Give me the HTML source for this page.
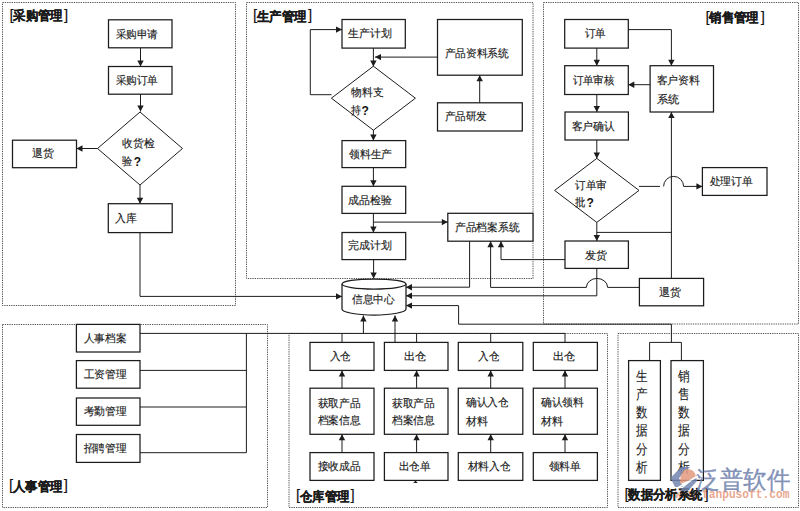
<!DOCTYPE html>
<html><head><meta charset="utf-8"><style>
html,body{margin:0;padding:0;background:#fff;width:800px;height:511px;overflow:hidden}
svg{display:block}
text{font-family:"Liberation Sans",sans-serif}
</style></head><body>
<svg width="800" height="511" viewBox="0 0 800 511">
<rect width="800" height="511" fill="#fff"/>
<rect x="2.5" y="2.5" width="233.0" height="303.0" fill="none" stroke="#555" stroke-width="1" stroke-dasharray="1.3 1"/>
<rect x="246.5" y="2.5" width="286.5" height="276.0" fill="none" stroke="#555" stroke-width="1" stroke-dasharray="1.3 1"/>
<rect x="543.5" y="2.5" width="255.0" height="321.5" fill="none" stroke="#555" stroke-width="1" stroke-dasharray="1.3 1"/>
<rect x="2.5" y="324.5" width="265.0" height="183.0" fill="none" stroke="#555" stroke-width="1" stroke-dasharray="1.3 1"/>
<rect x="289" y="333.5" width="318.5" height="174.0" fill="none" stroke="#555" stroke-width="1" stroke-dasharray="1.3 1"/>
<rect x="618" y="333.5" width="180.5" height="174.0" fill="none" stroke="#555" stroke-width="1" stroke-dasharray="1.3 1"/>
<rect x="108.5" y="19.8" width="63.5" height="27.999999999999996" fill="#fff" stroke="#1c1c1c" stroke-width="1.25"/>
<rect x="108.5" y="66.5" width="63.5" height="27.700000000000003" fill="#fff" stroke="#1c1c1c" stroke-width="1.25"/>
<polyline points="140.5,48 140.5,66.5" fill="none" stroke="#1c1c1c" stroke-width="1.0"/>
<polygon points="140.5,66.5 137.3,60.5 143.7,60.5" fill="#1c1c1c"/>
<polygon points="140,112.0 182.5,148.5 140,185.0 97.5,148.5" fill="#fff" stroke="#1c1c1c" stroke-width="1.0"/>
<polyline points="140.5,94.2 140.5,111.5" fill="none" stroke="#1c1c1c" stroke-width="1.0"/>
<polygon points="140.5,111.5 137.3,105.5 143.7,105.5" fill="#1c1c1c"/>
<rect x="12.5" y="140.2" width="64.0" height="27.5" fill="#fff" stroke="#1c1c1c" stroke-width="1.25"/>
<polyline points="97.5,148.5 76.5,148.5" fill="none" stroke="#1c1c1c" stroke-width="1.0"/>
<polygon points="76.5,148.5 82.5,145.3 82.5,151.7" fill="#1c1c1c"/>
<rect x="108.3" y="203.7" width="63.89999999999999" height="28.900000000000006" fill="#fff" stroke="#1c1c1c" stroke-width="1.25"/>
<polyline points="140,185 140,203.7" fill="none" stroke="#1c1c1c" stroke-width="1.0"/>
<polygon points="140,203.7 136.8,197.7 143.2,197.7" fill="#1c1c1c"/>
<text x="115.50" y="38.13" font-size="11" font-weight="normal" fill="#1a1a1a" stroke="#1a1a1a" stroke-width="0.15" textLength="42.50" lengthAdjust="spacingAndGlyphs">采购申请</text>
<text x="115.50" y="83.93" font-size="11" font-weight="normal" fill="#1a1a1a" stroke="#1a1a1a" stroke-width="0.15" textLength="42.50" lengthAdjust="spacingAndGlyphs">采购订单</text>
<text x="122.30" y="146.63" font-size="11" font-weight="normal" fill="#1a1a1a" stroke="#1a1a1a" stroke-width="0.15" textLength="32.20" lengthAdjust="spacingAndGlyphs">收货检</text>
<text x="122.30" y="164.63" font-size="11" font-weight="normal" fill="#1a1a1a" stroke="#1a1a1a" stroke-width="0.15" textLength="10.20" lengthAdjust="spacingAndGlyphs">验</text>
<text x="133.80" y="165.60" font-size="12" font-weight="bold" fill="#111">?</text>
<text x="32.10" y="157.03" font-size="11" font-weight="normal" fill="#1a1a1a" stroke="#1a1a1a" stroke-width="0.15" textLength="21.80" lengthAdjust="spacingAndGlyphs">退货</text>
<text x="115.30" y="221.93" font-size="11" font-weight="normal" fill="#1a1a1a" stroke="#1a1a1a" stroke-width="0.15" textLength="21.70" lengthAdjust="spacingAndGlyphs">入库</text>
<rect x="342" y="19.5" width="63.30000000000001" height="28.6" fill="#fff" stroke="#1c1c1c" stroke-width="1.25"/>
<polygon points="373.4,66.2 415.4,98.2 373.4,130.2 331.4,98.2" fill="#fff" stroke="#1c1c1c" stroke-width="1.0"/>
<polyline points="373.4,48.1 373.4,66.4" fill="none" stroke="#1c1c1c" stroke-width="1.0"/>
<polygon points="373.4,66.4 370.2,60.400000000000006 376.59999999999997,60.400000000000006" fill="#1c1c1c"/>
<polyline points="331.5,94.7 310.3,94.7 310.3,29.6 342,29.6" fill="none" stroke="#1c1c1c" stroke-width="1.0"/>
<polygon points="342,29.6 336,26.400000000000002 336,32.800000000000004" fill="#1c1c1c"/>
<rect x="437.5" y="19.5" width="84.79999999999995" height="55.7" fill="#fff" stroke="#1c1c1c" stroke-width="1.25"/>
<polyline points="437.5,57.1 375,57.1" fill="none" stroke="#1c1c1c" stroke-width="1.0"/>
<polygon points="375,57.1 381,53.9 381,60.300000000000004" fill="#1c1c1c"/>
<rect x="437.5" y="102.8" width="84.79999999999995" height="28.200000000000003" fill="#fff" stroke="#1c1c1c" stroke-width="1.25"/>
<polyline points="479.7,102.8 479.7,75.2" fill="none" stroke="#1c1c1c" stroke-width="1.0"/>
<polygon points="479.7,75.2 476.5,81.2 482.9,81.2" fill="#1c1c1c"/>
<rect x="342" y="140.6" width="63.69999999999999" height="27.0" fill="#fff" stroke="#1c1c1c" stroke-width="1.25"/>
<polyline points="373.4,130 373.4,140.6" fill="none" stroke="#1c1c1c" stroke-width="1.0"/>
<polygon points="373.4,140.6 370.2,134.6 376.59999999999997,134.6" fill="#1c1c1c"/>
<rect x="342" y="186.3" width="63.69999999999999" height="27.099999999999994" fill="#fff" stroke="#1c1c1c" stroke-width="1.25"/>
<polyline points="373.4,167.6 373.4,186.3" fill="none" stroke="#1c1c1c" stroke-width="1.0"/>
<polygon points="373.4,186.3 370.2,180.3 376.59999999999997,180.3" fill="#1c1c1c"/>
<rect x="342" y="232.5" width="63.69999999999999" height="27.100000000000023" fill="#fff" stroke="#1c1c1c" stroke-width="1.25"/>
<polyline points="373.4,213.4 373.4,232.5" fill="none" stroke="#1c1c1c" stroke-width="1.0"/>
<polygon points="373.4,232.5 370.2,226.5 376.59999999999997,226.5" fill="#1c1c1c"/>
<rect x="447.8" y="213.3" width="85.19999999999999" height="27.899999999999977" fill="#fff" stroke="#1c1c1c" stroke-width="1.25"/>
<polyline points="373.4,222.1 447.8,222.1" fill="none" stroke="#1c1c1c" stroke-width="1.0"/>
<polygon points="447.8,222.1 441.8,218.9 441.8,225.29999999999998" fill="#1c1c1c"/>
<text x="348.40" y="37.43" font-size="11" font-weight="normal" fill="#1a1a1a" stroke="#1a1a1a" stroke-width="0.15" textLength="43.60" lengthAdjust="spacingAndGlyphs">生产计划</text>
<text x="351.40" y="95.83" font-size="11" font-weight="normal" fill="#1a1a1a" stroke="#1a1a1a" stroke-width="0.15" textLength="32.10" lengthAdjust="spacingAndGlyphs">物料支</text>
<text x="351.40" y="113.93" font-size="11" font-weight="normal" fill="#1a1a1a" stroke="#1a1a1a" stroke-width="0.15" textLength="10.10" lengthAdjust="spacingAndGlyphs">持</text>
<text x="361.50" y="114.90" font-size="12" font-weight="bold" fill="#111">?</text>
<text x="444.50" y="56.63" font-size="11" font-weight="normal" fill="#1a1a1a" stroke="#1a1a1a" stroke-width="0.15" textLength="64.30" lengthAdjust="spacingAndGlyphs">产品资料系统</text>
<text x="444.50" y="120.13" font-size="11" font-weight="normal" fill="#1a1a1a" stroke="#1a1a1a" stroke-width="0.15" textLength="42.50" lengthAdjust="spacingAndGlyphs">产品研发</text>
<text x="349.10" y="157.53" font-size="11" font-weight="normal" fill="#1a1a1a" stroke="#1a1a1a" stroke-width="0.15" textLength="43.10" lengthAdjust="spacingAndGlyphs">领料生产</text>
<text x="348.30" y="203.63" font-size="11" font-weight="normal" fill="#1a1a1a" stroke="#1a1a1a" stroke-width="0.15" textLength="43.60" lengthAdjust="spacingAndGlyphs">成品检验</text>
<text x="348.30" y="249.33" font-size="11" font-weight="normal" fill="#1a1a1a" stroke="#1a1a1a" stroke-width="0.15" textLength="43.60" lengthAdjust="spacingAndGlyphs">完成计划</text>
<text x="454.80" y="231.23" font-size="11" font-weight="normal" fill="#1a1a1a" stroke="#1a1a1a" stroke-width="0.15" textLength="64.90" lengthAdjust="spacingAndGlyphs">产品档案系统</text>
<rect x="564.7" y="19.5" width="63.59999999999991" height="28.6" fill="#fff" stroke="#1c1c1c" stroke-width="1.25"/>
<rect x="564.7" y="65.7" width="63.59999999999991" height="28.799999999999997" fill="#fff" stroke="#1c1c1c" stroke-width="1.25"/>
<rect x="565" y="112" width="63.39999999999998" height="28" fill="#fff" stroke="#1c1c1c" stroke-width="1.25"/>
<polyline points="596.8,48.1 596.8,65.7" fill="none" stroke="#1c1c1c" stroke-width="1.0"/>
<polygon points="596.8,65.7 593.5999999999999,59.7 600.0,59.7" fill="#1c1c1c"/>
<polyline points="596.8,94.5 596.8,112" fill="none" stroke="#1c1c1c" stroke-width="1.0"/>
<polygon points="596.8,112 593.5999999999999,106 600.0,106" fill="#1c1c1c"/>
<rect x="650.1" y="65.7" width="63.39999999999998" height="46.3" fill="#fff" stroke="#1c1c1c" stroke-width="1.25"/>
<polyline points="628.3,29.6 671.4,29.6 671.4,65.7" fill="none" stroke="#1c1c1c" stroke-width="1.0"/>
<polygon points="671.4,65.7 668.1999999999999,59.7 674.6,59.7" fill="#1c1c1c"/>
<polyline points="650.1,84.7 628.3,84.7" fill="none" stroke="#1c1c1c" stroke-width="1.0"/>
<polygon points="628.3,84.7 634.3,81.5 634.3,87.9" fill="#1c1c1c"/>
<polygon points="596.8,158.4 639.0,190.4 596.8,222.4 554.5999999999999,190.4" fill="#fff" stroke="#1c1c1c" stroke-width="1.0"/>
<polyline points="596.8,140 596.8,158.4" fill="none" stroke="#1c1c1c" stroke-width="1.0"/>
<polygon points="596.8,158.4 593.5999999999999,152.4 600.0,152.4" fill="#1c1c1c"/>
<rect x="565" y="241" width="63.39999999999998" height="27.399999999999977" fill="#fff" stroke="#1c1c1c" stroke-width="1.25"/>
<polyline points="596.8,222.4 596.8,241" fill="none" stroke="#1c1c1c" stroke-width="1.0"/>
<polygon points="596.8,241 593.5999999999999,235 600.0,235" fill="#1c1c1c"/>
<polyline points="671.4,232.4 596.8,232.4" fill="none" stroke="#1c1c1c" stroke-width="1.0"/>
<rect x="702.4" y="167.6" width="64.60000000000002" height="27.80000000000001" fill="#fff" stroke="#1c1c1c" stroke-width="1.25"/>
<polyline points="639,186.4 660,186.4" fill="none" stroke="#1c1c1c" stroke-width="1.0"/>
<path d="M663.6,186.4 A10,10 0 0 1 683.6,186.4" fill="none" stroke="#1c1c1c" stroke-width="1.0"/>
<polyline points="683.6,186.4 702.4,186.4" fill="none" stroke="#1c1c1c" stroke-width="1.0"/>
<polygon points="702.4,186.4 696.4,183.20000000000002 696.4,189.6" fill="#1c1c1c"/>
<rect x="639.4" y="278.4" width="64.20000000000005" height="27.400000000000034" fill="#fff" stroke="#1c1c1c" stroke-width="1.25"/>
<polyline points="671.4,112 671.4,278.4" fill="none" stroke="#1c1c1c" stroke-width="1.0"/>
<polygon points="671.4,112 668.1999999999999,118 674.6,118" fill="#1c1c1c"/>
<polyline points="671.4,324.2 671.4,342.4" fill="none" stroke="#1c1c1c" stroke-width="1.0"/>
<text x="584.50" y="37.43" font-size="11" font-weight="normal" fill="#1a1a1a" stroke="#1a1a1a" stroke-width="0.15" textLength="21.00" lengthAdjust="spacingAndGlyphs">订单</text>
<text x="572.50" y="83.83" font-size="11" font-weight="normal" fill="#1a1a1a" stroke="#1a1a1a" stroke-width="0.15" textLength="41.80" lengthAdjust="spacingAndGlyphs">订单审核</text>
<text x="571.50" y="129.63" font-size="11" font-weight="normal" fill="#1a1a1a" stroke="#1a1a1a" stroke-width="0.15" textLength="43.40" lengthAdjust="spacingAndGlyphs">客户确认</text>
<text x="656.50" y="84.33" font-size="11" font-weight="normal" fill="#1a1a1a" stroke="#1a1a1a" stroke-width="0.15" textLength="43.50" lengthAdjust="spacingAndGlyphs">客户资料</text>
<text x="656.50" y="102.63" font-size="11" font-weight="normal" fill="#1a1a1a" stroke="#1a1a1a" stroke-width="0.15" textLength="22.50" lengthAdjust="spacingAndGlyphs">系统</text>
<text x="575.10" y="188.63" font-size="11" font-weight="normal" fill="#1a1a1a" stroke="#1a1a1a" stroke-width="0.15" textLength="31.40" lengthAdjust="spacingAndGlyphs">订单审</text>
<text x="575.10" y="205.63" font-size="11" font-weight="normal" fill="#1a1a1a" stroke="#1a1a1a" stroke-width="0.15" textLength="10.40" lengthAdjust="spacingAndGlyphs">批</text>
<text x="586.50" y="206.60" font-size="12" font-weight="bold" fill="#111">?</text>
<text x="709.50" y="185.23" font-size="11" font-weight="normal" fill="#1a1a1a" stroke="#1a1a1a" stroke-width="0.15" textLength="43.00" lengthAdjust="spacingAndGlyphs">处理订单</text>
<text x="584.50" y="258.63" font-size="11" font-weight="normal" fill="#1a1a1a" stroke="#1a1a1a" stroke-width="0.15" textLength="22.00" lengthAdjust="spacingAndGlyphs">发货</text>
<text x="658.50" y="295.63" font-size="11" font-weight="normal" fill="#1a1a1a" stroke="#1a1a1a" stroke-width="0.15" textLength="22.00" lengthAdjust="spacingAndGlyphs">退货</text>
<path d="M342,284 L342,309 A32.0,6 0 0 0 406,309 L406,284" fill="#fff" stroke="#1c1c1c" stroke-width="1.25"/>
<ellipse cx="374.0" cy="284" rx="32.0" ry="5" fill="#fff" stroke="#1c1c1c" stroke-width="1.25"/>
<polyline points="373.6,259.6 373.6,278.5" fill="none" stroke="#1c1c1c" stroke-width="1.0"/>
<polygon points="373.6,278.5 370.40000000000003,272.5 376.8,272.5" fill="#1c1c1c"/>
<text x="352.00" y="302.93" font-size="11" font-weight="normal" fill="#1a1a1a" stroke="#1a1a1a" stroke-width="0.15" textLength="42.60" lengthAdjust="spacingAndGlyphs">信息中心</text>
<polyline points="140,232.6 140,296.4 342,296.4" fill="none" stroke="#1c1c1c" stroke-width="1.0"/>
<polygon points="342,296.4 336,293.2 336,299.59999999999997" fill="#1c1c1c"/>
<polyline points="469.6,241.2 469.6,287.2 406,287.2" fill="none" stroke="#1c1c1c" stroke-width="1.0"/>
<polygon points="406,287.2 412,284.0 412,290.4" fill="#1c1c1c"/>
<polyline points="596.8,268.4 596.8,295.8 406,295.8" fill="none" stroke="#1c1c1c" stroke-width="1.0"/>
<polygon points="406,295.8 412,292.6 412,299.0" fill="#1c1c1c"/>
<polyline points="639.4,287.4 607.6,287.4" fill="none" stroke="#1c1c1c" stroke-width="1.0"/>
<path d="M607.6,287.4 A10.6,9 0 0 0 586.4,287.4" fill="none" stroke="#1c1c1c" stroke-width="1.0"/>
<polyline points="586.4,287.4 490.6,287.4 490.6,241.2" fill="none" stroke="#1c1c1c" stroke-width="1.0"/>
<polygon points="490.6,241.2 487.40000000000003,247.2 493.8,247.2" fill="#1c1c1c"/>
<polyline points="565,259.6 501,259.6 501,241.2" fill="none" stroke="#1c1c1c" stroke-width="1.0"/>
<polygon points="501,241.2 497.8,247.2 504.2,247.2" fill="#1c1c1c"/>
<polyline points="671.4,324.2 458.6,324.2 458.6,305.6 406,305.6" fill="none" stroke="#1c1c1c" stroke-width="1.0"/>
<polygon points="406,305.6 412,302.40000000000003 412,308.8" fill="#1c1c1c"/>
<rect x="76.4" y="324.4" width="63.599999999999994" height="27.600000000000023" fill="#fff" stroke="#1c1c1c" stroke-width="1.25"/>
<rect x="76.4" y="360.6" width="63.599999999999994" height="27.599999999999966" fill="#fff" stroke="#1c1c1c" stroke-width="1.25"/>
<rect x="76.4" y="398" width="63.599999999999994" height="27.30000000000001" fill="#fff" stroke="#1c1c1c" stroke-width="1.25"/>
<rect x="76.4" y="434.5" width="63.599999999999994" height="27.899999999999977" fill="#fff" stroke="#1c1c1c" stroke-width="1.25"/>
<polyline points="140,333.4 565,333.4" fill="none" stroke="#1c1c1c" stroke-width="1.0"/>
<polyline points="140,370.4 246.4,370.4" fill="none" stroke="#1c1c1c" stroke-width="1.0"/>
<polyline points="140,407 246.4,407" fill="none" stroke="#1c1c1c" stroke-width="1.0"/>
<polyline points="140,452.7 246.4,452.7 246.4,333.4" fill="none" stroke="#1c1c1c" stroke-width="1.0"/>
<text x="83.50" y="341.63" font-size="11" font-weight="normal" fill="#1a1a1a" stroke="#1a1a1a" stroke-width="0.15" textLength="43.00" lengthAdjust="spacingAndGlyphs">人事档案</text>
<text x="83.50" y="378.13" font-size="11" font-weight="normal" fill="#1a1a1a" stroke="#1a1a1a" stroke-width="0.15" textLength="43.00" lengthAdjust="spacingAndGlyphs">工资管理</text>
<text x="83.50" y="415.13" font-size="11" font-weight="normal" fill="#1a1a1a" stroke="#1a1a1a" stroke-width="0.15" textLength="43.00" lengthAdjust="spacingAndGlyphs">考勤管理</text>
<text x="83.50" y="452.13" font-size="11" font-weight="normal" fill="#1a1a1a" stroke="#1a1a1a" stroke-width="0.15" textLength="43.00" lengthAdjust="spacingAndGlyphs">招聘管理</text>
<polyline points="342,333.4 342,342.4" fill="none" stroke="#1c1c1c" stroke-width="1.0"/>
<rect x="310" y="342.4" width="64" height="28.0" fill="#fff" stroke="#1c1c1c" stroke-width="1.25"/>
<rect x="310" y="388.2" width="64" height="46.10000000000002" fill="#fff" stroke="#1c1c1c" stroke-width="1.25"/>
<rect x="310" y="452.6" width="64" height="27.799999999999955" fill="#fff" stroke="#1c1c1c" stroke-width="1.25"/>
<polyline points="342,388.2 342,370.4" fill="none" stroke="#1c1c1c" stroke-width="1.0"/>
<polygon points="342,370.4 338.8,376.4 345.2,376.4" fill="#1c1c1c"/>
<polyline points="342,452.6 342,434.3" fill="none" stroke="#1c1c1c" stroke-width="1.0"/>
<polygon points="342,434.3 338.8,440.3 345.2,440.3" fill="#1c1c1c"/>
<polyline points="416.6,333.4 416.6,342.4" fill="none" stroke="#1c1c1c" stroke-width="1.0"/>
<rect x="384.4" y="342.4" width="63.60000000000002" height="28.0" fill="#fff" stroke="#1c1c1c" stroke-width="1.25"/>
<rect x="384.4" y="388.2" width="63.60000000000002" height="46.10000000000002" fill="#fff" stroke="#1c1c1c" stroke-width="1.25"/>
<rect x="384.4" y="452.6" width="63.60000000000002" height="27.799999999999955" fill="#fff" stroke="#1c1c1c" stroke-width="1.25"/>
<polyline points="416.6,388.2 416.6,370.4" fill="none" stroke="#1c1c1c" stroke-width="1.0"/>
<polygon points="416.6,370.4 413.40000000000003,376.4 419.8,376.4" fill="#1c1c1c"/>
<polyline points="416.6,452.6 416.6,434.3" fill="none" stroke="#1c1c1c" stroke-width="1.0"/>
<polygon points="416.6,434.3 413.40000000000003,440.3 419.8,440.3" fill="#1c1c1c"/>
<polyline points="490.7,333.4 490.7,342.4" fill="none" stroke="#1c1c1c" stroke-width="1.0"/>
<rect x="458.3" y="342.4" width="64.49999999999994" height="28.0" fill="#fff" stroke="#1c1c1c" stroke-width="1.25"/>
<rect x="458.3" y="388.2" width="64.49999999999994" height="46.10000000000002" fill="#fff" stroke="#1c1c1c" stroke-width="1.25"/>
<rect x="458.3" y="452.6" width="64.49999999999994" height="27.799999999999955" fill="#fff" stroke="#1c1c1c" stroke-width="1.25"/>
<polyline points="490.7,388.2 490.7,370.4" fill="none" stroke="#1c1c1c" stroke-width="1.0"/>
<polygon points="490.7,370.4 487.5,376.4 493.9,376.4" fill="#1c1c1c"/>
<polyline points="490.7,452.6 490.7,434.3" fill="none" stroke="#1c1c1c" stroke-width="1.0"/>
<polygon points="490.7,434.3 487.5,440.3 493.9,440.3" fill="#1c1c1c"/>
<polyline points="565,333.4 565,342.4" fill="none" stroke="#1c1c1c" stroke-width="1.0"/>
<rect x="533.3" y="342.4" width="64.10000000000002" height="28.0" fill="#fff" stroke="#1c1c1c" stroke-width="1.25"/>
<rect x="533.3" y="388.2" width="64.10000000000002" height="46.10000000000002" fill="#fff" stroke="#1c1c1c" stroke-width="1.25"/>
<rect x="533.3" y="452.6" width="64.10000000000002" height="27.799999999999955" fill="#fff" stroke="#1c1c1c" stroke-width="1.25"/>
<polyline points="565,388.2 565,370.4" fill="none" stroke="#1c1c1c" stroke-width="1.0"/>
<polygon points="565,370.4 561.8,376.4 568.2,376.4" fill="#1c1c1c"/>
<polyline points="565,452.6 565,434.3" fill="none" stroke="#1c1c1c" stroke-width="1.0"/>
<polygon points="565,434.3 561.8,440.3 568.2,440.3" fill="#1c1c1c"/>
<polygon points="413.3,483 417.7,483 415.5,480.4" fill="#1c1c1c"/>
<polyline points="363.4,333.4 363.4,315.5" fill="none" stroke="#1c1c1c" stroke-width="1.0"/>
<polygon points="363.4,315.5 360.2,321.5 366.59999999999997,321.5" fill="#1c1c1c"/>
<polyline points="395,342.4 395,315.5" fill="none" stroke="#1c1c1c" stroke-width="1.0"/>
<polygon points="395,315.5 391.8,321.5 398.2,321.5" fill="#1c1c1c"/>
<text x="329.50" y="360.23" font-size="11" font-weight="normal" fill="#1a1a1a" stroke="#1a1a1a" stroke-width="0.15" textLength="21.40" lengthAdjust="spacingAndGlyphs">入仓</text>
<text x="403.90" y="360.23" font-size="11" font-weight="normal" fill="#1a1a1a" stroke="#1a1a1a" stroke-width="0.15" textLength="22.60" lengthAdjust="spacingAndGlyphs">出仓</text>
<text x="478.10" y="360.23" font-size="11" font-weight="normal" fill="#1a1a1a" stroke="#1a1a1a" stroke-width="0.15" textLength="21.40" lengthAdjust="spacingAndGlyphs">入仓</text>
<text x="552.50" y="360.23" font-size="11" font-weight="normal" fill="#1a1a1a" stroke="#1a1a1a" stroke-width="0.15" textLength="22.60" lengthAdjust="spacingAndGlyphs">出仓</text>
<text x="317.50" y="406.63" font-size="11" font-weight="normal" fill="#1a1a1a" stroke="#1a1a1a" stroke-width="0.15" textLength="43.00" lengthAdjust="spacingAndGlyphs">获取产品</text>
<text x="317.50" y="424.13" font-size="11" font-weight="normal" fill="#1a1a1a" stroke="#1a1a1a" stroke-width="0.15" textLength="43.00" lengthAdjust="spacingAndGlyphs">档案信息</text>
<text x="391.90" y="406.63" font-size="11" font-weight="normal" fill="#1a1a1a" stroke="#1a1a1a" stroke-width="0.15" textLength="43.00" lengthAdjust="spacingAndGlyphs">获取产品</text>
<text x="391.90" y="424.13" font-size="11" font-weight="normal" fill="#1a1a1a" stroke="#1a1a1a" stroke-width="0.15" textLength="43.00" lengthAdjust="spacingAndGlyphs">档案信息</text>
<text x="465.90" y="405.83" font-size="11" font-weight="normal" fill="#1a1a1a" stroke="#1a1a1a" stroke-width="0.15" textLength="43.00" lengthAdjust="spacingAndGlyphs">确认入仓</text>
<text x="465.90" y="424.63" font-size="11" font-weight="normal" fill="#1a1a1a" stroke="#1a1a1a" stroke-width="0.15" textLength="22.00" lengthAdjust="spacingAndGlyphs">材料</text>
<text x="540.90" y="405.83" font-size="11" font-weight="normal" fill="#1a1a1a" stroke="#1a1a1a" stroke-width="0.15" textLength="43.00" lengthAdjust="spacingAndGlyphs">确认领料</text>
<text x="540.90" y="424.63" font-size="11" font-weight="normal" fill="#1a1a1a" stroke="#1a1a1a" stroke-width="0.15" textLength="22.00" lengthAdjust="spacingAndGlyphs">材料</text>
<text x="317.50" y="470.23" font-size="11" font-weight="normal" fill="#1a1a1a" stroke="#1a1a1a" stroke-width="0.15" textLength="43.00" lengthAdjust="spacingAndGlyphs">接收成品</text>
<text x="398.50" y="470.23" font-size="11" font-weight="normal" fill="#1a1a1a" stroke="#1a1a1a" stroke-width="0.15" textLength="32.00" lengthAdjust="spacingAndGlyphs">出仓单</text>
<text x="467.50" y="470.23" font-size="11" font-weight="normal" fill="#1a1a1a" stroke="#1a1a1a" stroke-width="0.15" textLength="43.00" lengthAdjust="spacingAndGlyphs">材料入仓</text>
<text x="548.50" y="470.23" font-size="11" font-weight="normal" fill="#1a1a1a" stroke="#1a1a1a" stroke-width="0.15" textLength="32.00" lengthAdjust="spacingAndGlyphs">领料单</text>
<polyline points="649.6,360.6 649.6,342.4 681.4,342.4 681.4,360.6" fill="none" stroke="#1c1c1c" stroke-width="1.0"/>
<rect x="628.6" y="360.6" width="31.799999999999955" height="119.79999999999995" fill="#fff" stroke="#1c1c1c" stroke-width="1.25"/>
<rect x="671" y="360.6" width="32.39999999999998" height="119.79999999999995" fill="#fff" stroke="#1c1c1c" stroke-width="1.25"/>
<text x="636" y="380.60" font-size="14" fill="#1a1a1a" stroke="#1a1a1a" stroke-width="0.1" textLength="11.6" lengthAdjust="spacingAndGlyphs">生</text>
<text x="678.3" y="380.60" font-size="14" fill="#1a1a1a" stroke="#1a1a1a" stroke-width="0.1" textLength="11.8" lengthAdjust="spacingAndGlyphs">销</text>
<text x="636" y="398.85" font-size="14" fill="#1a1a1a" stroke="#1a1a1a" stroke-width="0.1" textLength="11.6" lengthAdjust="spacingAndGlyphs">产</text>
<text x="678.3" y="398.85" font-size="14" fill="#1a1a1a" stroke="#1a1a1a" stroke-width="0.1" textLength="11.8" lengthAdjust="spacingAndGlyphs">售</text>
<text x="636" y="417.10" font-size="14" fill="#1a1a1a" stroke="#1a1a1a" stroke-width="0.1" textLength="11.6" lengthAdjust="spacingAndGlyphs">数</text>
<text x="678.3" y="417.10" font-size="14" fill="#1a1a1a" stroke="#1a1a1a" stroke-width="0.1" textLength="11.8" lengthAdjust="spacingAndGlyphs">数</text>
<text x="636" y="435.35" font-size="14" fill="#1a1a1a" stroke="#1a1a1a" stroke-width="0.1" textLength="11.6" lengthAdjust="spacingAndGlyphs">据</text>
<text x="678.3" y="435.35" font-size="14" fill="#1a1a1a" stroke="#1a1a1a" stroke-width="0.1" textLength="11.8" lengthAdjust="spacingAndGlyphs">据</text>
<text x="636" y="453.60" font-size="14" fill="#1a1a1a" stroke="#1a1a1a" stroke-width="0.1" textLength="11.6" lengthAdjust="spacingAndGlyphs">分</text>
<text x="678.3" y="453.60" font-size="14" fill="#1a1a1a" stroke="#1a1a1a" stroke-width="0.1" textLength="11.8" lengthAdjust="spacingAndGlyphs">分</text>
<text x="636" y="471.85" font-size="14" fill="#1a1a1a" stroke="#1a1a1a" stroke-width="0.1" textLength="11.6" lengthAdjust="spacingAndGlyphs">析</text>
<text x="678.3" y="471.85" font-size="14" fill="#1a1a1a" stroke="#1a1a1a" stroke-width="0.1" textLength="11.8" lengthAdjust="spacingAndGlyphs">析</text>
<text x="9.40" y="19.70" font-size="15" fill="#111" stroke="#111" stroke-width="0.1">[</text>
<text x="63.90" y="19.70" font-size="15" fill="#111" stroke="#111" stroke-width="0.1">]</text>
<text x="13.20" y="20.00" font-size="13" font-weight="bold" fill="#1a1a1a" stroke="#1a1a1a" stroke-width="0.25" textLength="49.50" lengthAdjust="spacingAndGlyphs">采购管理</text>
<text x="253.10" y="20.40" font-size="15" fill="#111" stroke="#111" stroke-width="0.1">[</text>
<text x="308.10" y="20.40" font-size="15" fill="#111" stroke="#111" stroke-width="0.1">]</text>
<text x="256.90" y="20.70" font-size="13" font-weight="bold" fill="#1a1a1a" stroke="#1a1a1a" stroke-width="0.25" textLength="49.50" lengthAdjust="spacingAndGlyphs">生产管理</text>
<text x="705.50" y="21.70" font-size="15" fill="#111" stroke="#111" stroke-width="0.1">[</text>
<text x="760.80" y="21.70" font-size="15" fill="#111" stroke="#111" stroke-width="0.1">]</text>
<text x="709.30" y="22.00" font-size="13" font-weight="bold" fill="#1a1a1a" stroke="#1a1a1a" stroke-width="0.25" textLength="49.50" lengthAdjust="spacingAndGlyphs">销售管理</text>
<text x="9.00" y="490.40" font-size="15" fill="#111" stroke="#111" stroke-width="0.1">[</text>
<text x="63.80" y="490.40" font-size="15" fill="#111" stroke="#111" stroke-width="0.1">]</text>
<text x="12.80" y="490.70" font-size="13" font-weight="bold" fill="#1a1a1a" stroke="#1a1a1a" stroke-width="0.25" textLength="49.50" lengthAdjust="spacingAndGlyphs">人事管理</text>
<text x="296.10" y="500.40" font-size="15" fill="#111" stroke="#111" stroke-width="0.1">[</text>
<text x="350.60" y="500.40" font-size="15" fill="#111" stroke="#111" stroke-width="0.1">]</text>
<text x="299.90" y="500.70" font-size="13" font-weight="bold" fill="#1a1a1a" stroke="#1a1a1a" stroke-width="0.25" textLength="49.50" lengthAdjust="spacingAndGlyphs">仓库管理</text>
<text x="675" y="498.3" style="font-family:'Liberation Mono',monospace" font-size="12" font-weight="bold" fill="#e69b82" fill-opacity="0.9" textLength="114.5" lengthAdjust="spacingAndGlyphs">www.fanpusoft.com</text>
<text x="624.50" y="498.90" font-size="15" fill="#111" stroke="#111" stroke-width="0.1">[</text>
<text x="704.60" y="498.90" font-size="15" fill="#111" stroke="#111" stroke-width="0.1">]</text>
<text x="628.30" y="499.20" font-size="13" font-weight="bold" fill="#1a1a1a" stroke="#1a1a1a" stroke-width="0.25" textLength="74.00" lengthAdjust="spacingAndGlyphs">数据分析系统</text>
<text x="696" y="487.5" font-size="23.5" fill="#7586b0" stroke="#7586b0" stroke-width="0.35" fill-opacity="0.9" stroke-opacity="0.9" textLength="94" lengthAdjust="spacingAndGlyphs">泛普软件</text>
<g opacity="0.85">
<polygon points="681,467 690,467 679,478 683,487 675,487 670.5,478" fill="#7285b0"/>
<path d="M680,484 Q680,469 688,469 Q696,470 696,478 Z" fill="#e39a80"/>
<polygon points="679,491 688,491 697,481 696,477" fill="#7285b0"/>
<line x1="676" y1="489" x2="698" y2="476" stroke="#fff" stroke-width="2"/>
</g>
</svg>
</body></html>
